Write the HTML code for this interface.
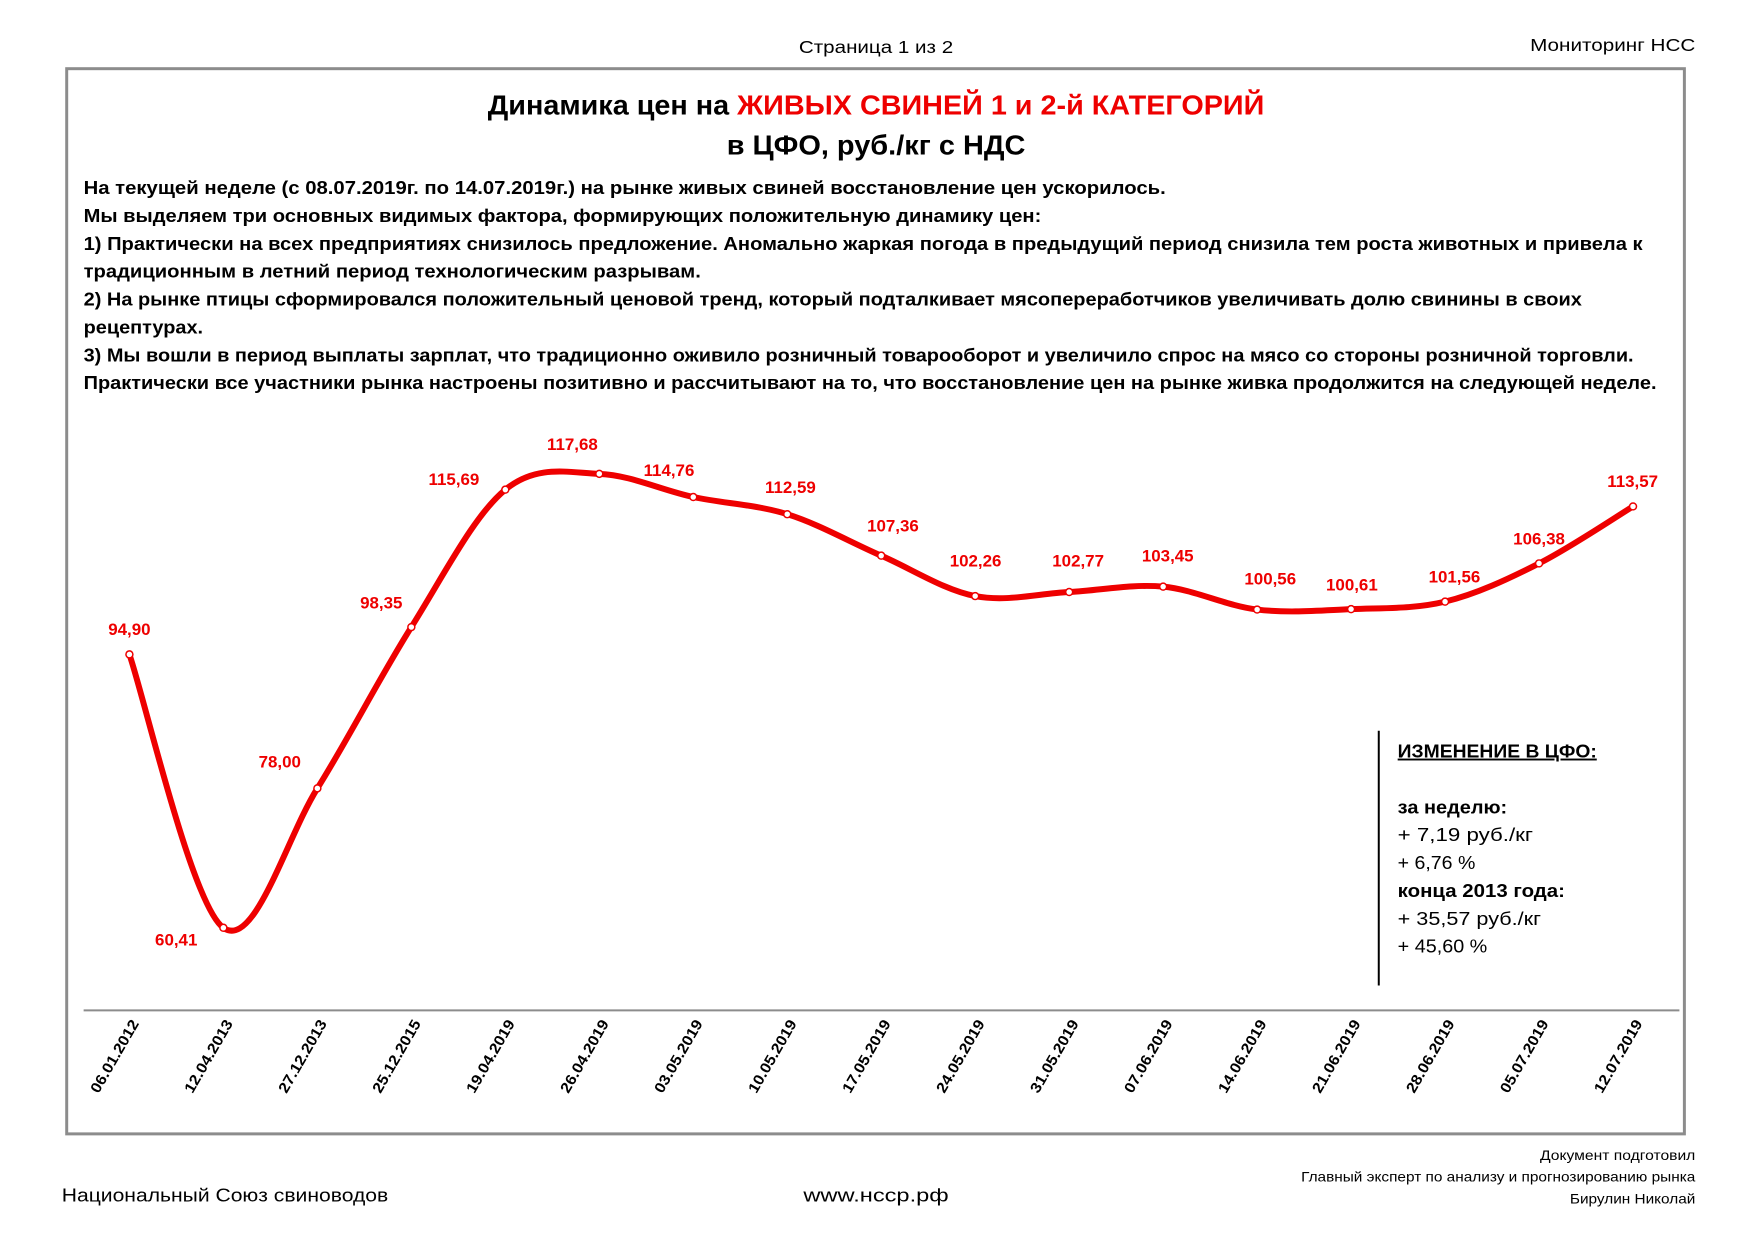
<!DOCTYPE html>
<html><head><meta charset="utf-8"><style>
html,body{margin:0;padding:0;background:#fff}
svg{display:block;font-family:"Liberation Sans","DejaVu Sans",sans-serif}
</style></head><body>
<svg id="s" width="1754" height="1240" viewBox="0 0 1754 1240" xmlns="http://www.w3.org/2000/svg">
<rect width="1754" height="1240" fill="#fff"/>
<g transform="scale(0.9955)">
<text x="880" y="53" font-size="18" text-anchor="middle" textLength="155" lengthAdjust="spacingAndGlyphs">Страница 1 из 2</text>
<text x="1703" y="51" font-size="18" text-anchor="end" textLength="166" lengthAdjust="spacingAndGlyphs">Мониторинг НСС</text>
<rect x="67" y="69" width="1625" height="1070" fill="none" stroke="#8c8c8c" stroke-width="3"/>
<text x="880" y="115" font-size="28" font-weight="bold" text-anchor="middle" textLength="780" lengthAdjust="spacingAndGlyphs">Динамика цен на <tspan fill="#ee0000">ЖИВЫХ СВИНЕЙ 1 и 2-й КАТЕГОРИЙ</tspan></text>
<text x="880" y="155" font-size="28" font-weight="bold" text-anchor="middle" textLength="300" lengthAdjust="spacingAndGlyphs">в ЦФО, руб./кг с НДС</text>
<g font-size="19" font-weight="bold">
<text x="84" y="195" textLength="1087" lengthAdjust="spacingAndGlyphs">На текущей неделе (с 08.07.2019г. по 14.07.2019г.) на рынке живых свиней восстановление цен ускорилось.</text>
<text x="84" y="223" textLength="962" lengthAdjust="spacingAndGlyphs">Мы выделяем три основных видимых фактора, формирующих положительную динамику цен:</text>
<text x="84" y="251" textLength="1566" lengthAdjust="spacingAndGlyphs">1) Практически на всех предприятиях снизилось предложение. Аномально жаркая погода в предыдущий период снизила тем роста животных и привела к</text>
<text x="84" y="279" textLength="620" lengthAdjust="spacingAndGlyphs">традиционным в летний период технологическим разрывам.</text>
<text x="84" y="307" textLength="1505" lengthAdjust="spacingAndGlyphs">2) На рынке птицы сформировался положительный ценовой тренд, который подталкивает мясопереработчиков увеличивать долю свинины в своих</text>
<text x="84" y="335" textLength="120" lengthAdjust="spacingAndGlyphs">рецептурах.</text>
<text x="84" y="363" textLength="1557" lengthAdjust="spacingAndGlyphs">3) Мы вошли в период выплаты зарплат, что традиционно оживило розничный товарооборот и увеличило спрос на мясо со стороны розничной торговли.</text>
<text x="84" y="391" textLength="1580" lengthAdjust="spacingAndGlyphs">Практически все участники рынка настроены позитивно и рассчитывают на то, что восстановление цен на рынке живка продолжится на следующей неделе.</text>
</g>
<line x1="84" y1="1015" x2="1687" y2="1015" stroke="#8c8c8c" stroke-width="2"/>
<path id="curve" fill="none" stroke="#ee0000" stroke-width="6" stroke-linecap="round" stroke-linejoin="round" d=""/>
<g id="marks"></g>
<g id="labels" font-size="17" font-weight="bold" fill="#ee0000" text-anchor="middle"></g>
<g id="dates" font-size="15" font-weight="bold" text-anchor="end"></g>
<line x1="1385" y1="734" x2="1385" y2="990" stroke="#000" stroke-width="2"/>
<g font-size="19">
<text x="1404" y="761" font-weight="bold" text-decoration="underline" textLength="200" lengthAdjust="spacingAndGlyphs">ИЗМЕНЕНИЕ В ЦФО:</text>
<text x="1404" y="817" font-weight="bold" textLength="110" lengthAdjust="spacingAndGlyphs">за неделю:</text>
<text x="1404" y="845" textLength="136" lengthAdjust="spacingAndGlyphs">+ 7,19 руб./кг</text>
<text x="1404" y="873" textLength="78" lengthAdjust="spacingAndGlyphs">+ 6,76 %</text>
<text x="1404" y="901" font-weight="bold" textLength="168" lengthAdjust="spacingAndGlyphs">конца 2013 года:</text>
<text x="1404" y="929" textLength="144" lengthAdjust="spacingAndGlyphs">+ 35,57 руб./кг</text>
<text x="1404" y="957" textLength="90" lengthAdjust="spacingAndGlyphs">+ 45,60 %</text>
</g>
<text x="62" y="1207" font-size="19" textLength="328" lengthAdjust="spacingAndGlyphs">Национальный Союз свиноводов</text>
<text x="880" y="1207" font-size="19" text-anchor="middle" textLength="146" lengthAdjust="spacingAndGlyphs">www.нсср.рф</text>
<g font-size="14" text-anchor="end">
<text x="1703" y="1165" textLength="156" lengthAdjust="spacingAndGlyphs">Документ подготовил</text>
<text x="1703" y="1187" textLength="396" lengthAdjust="spacingAndGlyphs">Главный эксперт по анализу и прогнозированию рынка</text>
<text x="1703" y="1209" textLength="126" lengthAdjust="spacingAndGlyphs">Бирулин Николай</text>
</g>
</g>
</svg>
<script>
var v=[94.90,60.41,78.00,98.35,115.69,117.68,114.76,112.59,107.36,102.26,102.77,103.45,100.56,100.61,101.56,106.38,113.57];
var d=["06.01.2012","12.04.2013","27.12.2013","25.12.2015","19.04.2019","26.04.2019","03.05.2019","10.05.2019","17.05.2019","24.05.2019","31.05.2019","07.06.2019","14.06.2019","21.06.2019","28.06.2019","05.07.2019","12.07.2019"];
var lp=[[130,632],[177,944],[281,765],[383,605],[456,481],[575,446],[672,472],[794,489],[897,528],[980,563],[1083,563],[1173,558],[1276,581],[1358,587],[1461,579],[1546,541],[1640,483]];
var P=v.map(function(a,i){return [130+i*94.4,476+(117.68-a)*7.962];});
var s="M"+P[0][0]+","+P[0][1];
for(var i=0;i<P.length-1;i++){
 var p0=P[i-1]||P[i],p1=P[i],p2=P[i+1],p3=P[i+2]||P[i+1];
 var c1x=p1[0]+(p2[0]-p0[0])/6,c1y=p1[1]+(p2[1]-p0[1])/6;
 var c2x=p2[0]-(p3[0]-p1[0])/6,c2y=p2[1]-(p3[1]-p1[1])/6;
 s+=" C"+c1x+","+c1y+" "+c2x+","+c2y+" "+p2[0]+","+p2[1];
}
document.getElementById("curve").setAttribute("d",s);
var NS="http://www.w3.org/2000/svg";
var m=document.getElementById("marks"),L=document.getElementById("labels"),D=document.getElementById("dates");
P.forEach(function(p,i){
 var c=document.createElementNS(NS,"circle");c.setAttribute("cx",p[0]);c.setAttribute("cy",p[1]);c.setAttribute("r",3.5);c.setAttribute("fill","#fff");c.setAttribute("stroke","#ee0000");c.setAttribute("stroke-width",1.5);m.appendChild(c);
 var t=document.createElementNS(NS,"text");t.setAttribute("x",lp[i][0]);t.setAttribute("y",lp[i][1]+6);t.textContent=v[i].toFixed(2).replace(".",",");L.appendChild(t);
 var q=document.createElementNS(NS,"text");var x=p[0]+10,y=1028;q.setAttribute("x",x);q.setAttribute("y",y);q.setAttribute("textLength","82");q.setAttribute("lengthAdjust","spacingAndGlyphs");q.setAttribute("transform","rotate(-60 "+x+" "+y+")");q.textContent=d[i];D.appendChild(q);
});
</script>
</body></html>
